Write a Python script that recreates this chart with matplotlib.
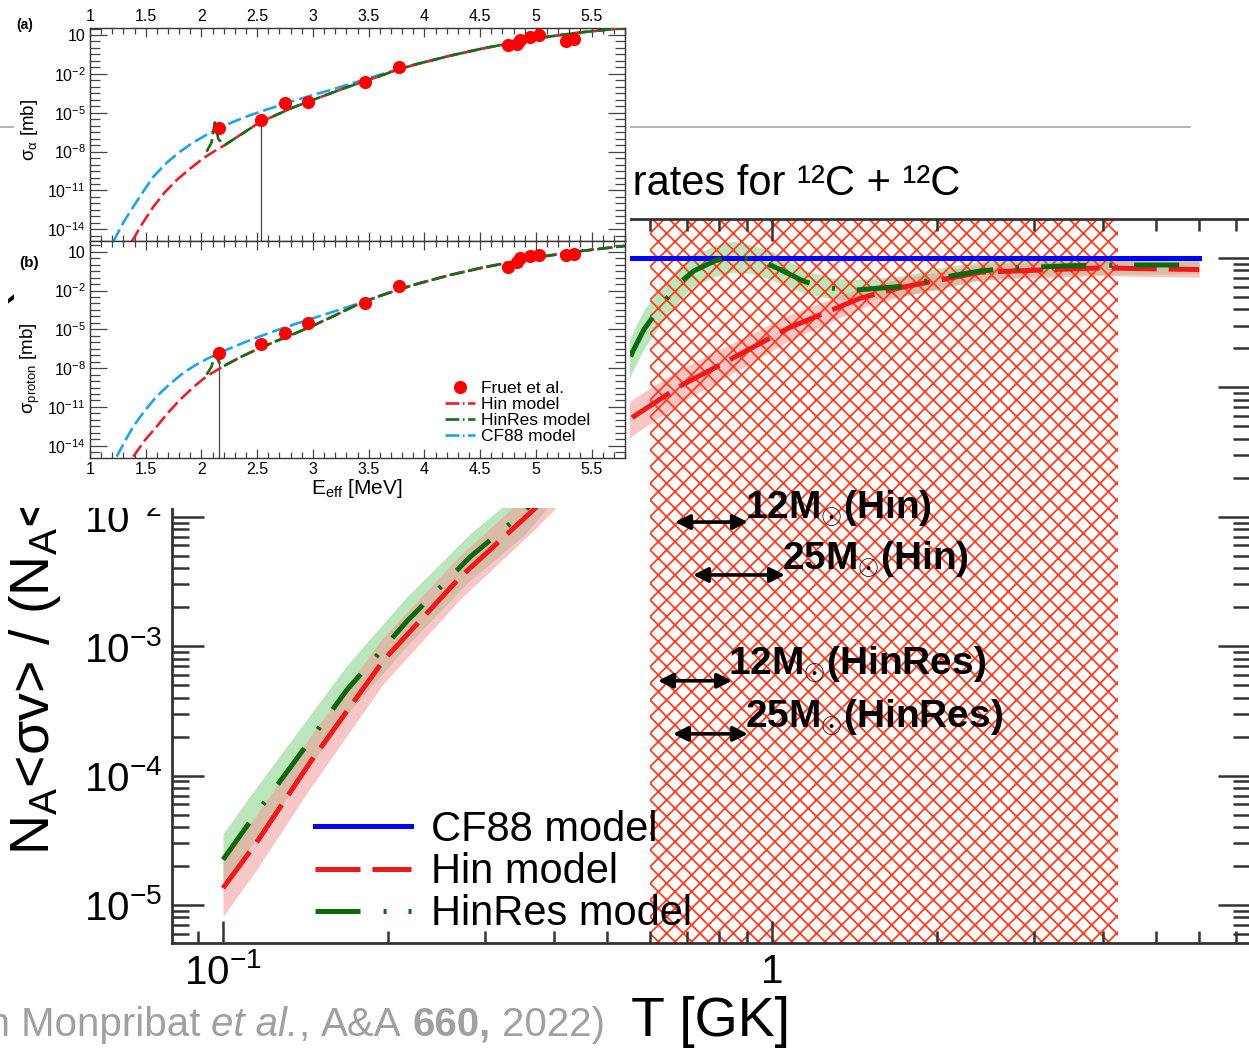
import numpy as np
import matplotlib
matplotlib.use("Agg")
import matplotlib.pyplot as plt
from matplotlib.lines import Line2D
from matplotlib.text import Annotation
from matplotlib.ticker import (FixedLocator, NullFormatter, FuncFormatter,
                               MultipleLocator, LogLocator)

W, H, DPI = 1249, 1053, 100

plt.rcParams.update({
    "font.family": ["Liberation Sans", "DejaVu Sans"],
    "mathtext.fontset": "custom",
    "mathtext.rm": "Liberation Sans",
    "mathtext.it": "Liberation Sans:italic",
    "mathtext.bf": "Liberation Sans:bold",
    "mathtext.sf": "Liberation Sans",
    "lines.scale_dashes": False,
    "hatch.linewidth": 1.3,
    "hatch.color": "#ff3d1f",
})

# ---------------- main panel: rate ratio relative to CF88 ----------------
T_cf88 = [0.1, 6.0]
ratio_cf88 = [1.0, 1.0]

T_hin = [0.100, 0.115, 0.144, 0.196, 0.270, 0.367, 0.450, 0.558, 0.680,
         0.818, 1.074, 1.450, 1.710, 2.400, 3.960, 6.000]
logratio_hin = [-4.87, -4.52, -3.90, -3.11, -2.47, -1.95, -1.58, -1.23, -0.99,
                -0.81, -0.54, -0.31, -0.23, -0.11, -0.077, -0.09]
band_hin = [0.22, 0.21, 0.20, 0.18, 0.17, 0.16, 0.15, 0.14, 0.13,
            0.12, 0.10, 0.08, 0.07, 0.06, 0.06, 0.06]

T_hinres = [0.100, 0.111, 0.133, 0.168, 0.216, 0.282, 0.352, 0.450, 0.520, 0.558,
            0.585, 0.630, 0.680, 0.720, 0.790, 0.850, 0.920, 1.000, 1.150, 1.270,
            1.400, 1.720, 2.050, 2.400, 2.850, 3.500, 4.300, 6.000]
logratio_hinres = [-4.65, -4.38, -3.93, -3.34, -2.81, -2.31, -1.97, -1.45, -1.02, -0.72,
                   -0.55, -0.36, -0.19, -0.10, -0.02, 0.01, -0.01, -0.06, -0.185, -0.23,
                   -0.25, -0.22, -0.15, -0.10, -0.075, -0.06, -0.055, -0.054]
band_hinres = [0.20, 0.20, 0.20, 0.19, 0.19, 0.18, 0.18, 0.17, 0.16, 0.15,
               0.15, 0.14, 0.13, 0.12, 0.12, 0.12, 0.11, 0.11, 0.09, 0.08,
               0.08, 0.08, 0.08, 0.07, 0.07, 0.07, 0.07, 0.07]

hatch_T = [0.6, 4.27]

star_labels = [r"12M$_{\odot}$(Hin)", r"25M$_{\odot}$(Hin)",
               r"12M$_{\odot}$(HinRes)", r"25M$_{\odot}$(HinRes)"]
star_T_lo = [0.666, 0.718, 0.620, 0.660]
star_T_hi = [0.904, 1.056, 0.846, 0.904]
star_arrow_y = [9.1e-3, 3.55e-3, 5.4e-4, 2.1e-4]
star_text_T = [0.893, 1.043, 0.832, 0.893]
star_text_y = [1.17e-2, 4.65e-3, 7.2e-4, 2.8e-4]

main_legend = ["CF88 model", "Hin model", "HinRes model"]

# ---------------- inset: cross sections vs E_eff (log10 sigma [mb]) ----------------
E_cf88_a = [1.209, 1.30, 1.388, 1.48, 1.568, 1.69, 1.807, 1.92, 2.046, 2.16, 2.285, 2.43,
            2.585, 2.76, 2.943, 3.18, 3.42, 3.67, 3.93, 4.23, 4.53, 5.0, 5.4, 5.8]
logsig_cf88_a = [-14.96, -13.46, -12.26, -11.05, -9.94, -8.84, -8.01, -7.33, -6.70, -6.20, -5.70, -5.21,
                 -4.76, -4.26, -3.78, -3.19, -2.55, -1.88, -1.25, -0.60, -0.03, 0.74, 1.20, 1.55]
E_hin_a = [1.374, 1.47, 1.568, 1.67, 1.777, 1.90, 2.016, 2.11, 2.21, 2.52, 2.82, 3.05, 3.30,
           3.55, 3.77, 3.93, 4.23, 4.53, 5.0, 5.4, 5.8]
logsig_hin_a = [-14.96, -13.55, -12.26, -11.15, -10.2, -9.3, -8.52, -8.0, -7.49, -5.75, -4.6, -3.85, -3.05,
                -2.32, -1.65, -1.25, -0.60, -0.03, 0.74, 1.20, 1.55]
E_hinres_a = [2.046, 2.09, 2.12, 2.135, 2.15, 2.18, 2.21, 2.52, 2.82, 3.05, 3.30,
              3.55, 3.77, 3.93, 4.23, 4.53, 5.0, 5.4, 5.8]
logsig_hinres_a = [-8.01, -7.3, -5.75, -6.3, -7.0, -7.3, -7.49, -5.75, -4.6, -3.85, -3.05,
                   -2.32, -1.65, -1.25, -0.60, -0.03, 0.74, 1.20, 1.55]

E_cf88_b = [1.239, 1.31, 1.388, 1.49, 1.598, 1.72, 1.837, 1.94, 2.046, 2.18, 2.316, 2.50,
            2.70, 2.88, 3.06, 3.25, 3.42, 3.60, 3.77, 3.93, 4.23, 4.53, 5.0, 5.4, 5.8]
logsig_cf88_b = [-14.85, -13.7, -12.52, -11.3, -10.19, -9.2, -8.37, -7.8, -7.3, -6.75, -6.25, -5.62,
                 -5.0, -4.48, -3.98, -3.45, -2.97, -2.42, -1.92, -1.50, -0.80, -0.21, 0.56, 1.05, 1.45]
E_hin_b = [1.388, 1.49, 1.598, 1.70, 1.807, 1.93, 2.046, 2.196, 2.35, 2.495, 2.66, 2.82, 3.0,
           3.18, 3.30, 3.42, 3.60, 3.77, 3.93, 4.23, 4.53, 5.0, 5.4, 5.8]
logsig_hin_b = [-14.85, -13.6, -12.52, -11.45, -10.45, -9.45, -8.63, -7.86, -7.15, -6.56, -5.95, -5.39, -4.72,
                -4.0, -3.5, -3.0, -2.42, -1.92, -1.50, -0.80, -0.21, 0.56, 1.05, 1.45]
E_hinres_b = [2.046, 2.09, 2.12, 2.14, 2.16, 2.196, 2.35, 2.495, 2.66, 2.82, 3.0,
              3.18, 3.30, 3.42, 3.60, 3.77, 3.93, 4.23, 4.53, 5.0, 5.4, 5.8]
logsig_hinres_b = [-8.5, -7.9, -6.95, -7.2, -7.6, -7.86, -7.15, -6.56, -5.95, -5.39, -4.72,
                   -4.0, -3.5, -3.0, -2.42, -1.92, -1.50, -0.80, -0.21, 0.56, 1.05, 1.45]

E_fruet = [2.16, 2.53, 2.75, 2.96, 3.47, 3.77, 4.75, 4.83, 4.86, 4.95, 5.03, 5.27, 5.34]
logsig_fruet_alpha = [-6.21, -5.56, -4.28, -4.15, -2.61, -1.49, 0.23, 0.30, 0.61, 0.82, 1.0, 0.56, 0.69]
logsig_fruet_proton = [-6.82, -6.17, -5.26, -4.49, -2.93, -1.64, -0.21, 0.18, 0.49, 0.64, 0.77, 0.74, 0.82]
drop_line_index_a = 1
drop_line_index_b = 0

inset_ylim_a = [-14.9, 1.54]
inset_ylim_b = [-14.95, 1.83]
inset_ytick_exp = [1, -2, -5, -8, -11, -14]
inset_legend = ["Fruet et al.", "Hin model", "HinRes model", "CF88 model"]

# ---------------- helpers ----------------
def fx(x):
    return x / W

def fy(y):
    return 1 - y / H

def pow10(v):
    return 10.0 ** np.asarray(v, dtype=float)

fig = plt.figure(figsize=(W / DPI, H / DPI), dpi=DPI)
fig.patch.set_facecolor("white")

# ---------------- slide decorations ----------------
fig.add_artist(Line2D([fx(0), fx(1190)], [fy(127), fy(127)], color="#a6a6a6", lw=1.2, zorder=1))
fig.text(fx(960), fy(195), "Ratio of reaction rates for \u00b9\u00b2C + \u00b9\u00b2C",
         ha="right", va="baseline", fontsize=30,
         family=["Liberation Sans Narrow", "Liberation Sans", "DejaVu Sans"], zorder=1)

cap_fs = 29
cap_sp = 0.278 * cap_fs
cap_kw = dict(fontsize=cap_fs, color="#a0a0a0", zorder=1)
cap_pieces = [("(from Monpribat", {}, cap_sp), ("et al.", {"style": "italic"}, 0.0),
              (",", {}, cap_sp), ("A&A", {}, cap_sp), ("660,", {"weight": "bold"}, cap_sp)]
prev = fig.text(fx(605), fy(1036), "2022)", ha="right", va="baseline", **cap_kw)
for txt, extra, gap in reversed(cap_pieces):
    ann = Annotation(txt, xy=(0, 0), xycoords=prev, xytext=(-gap, 0), textcoords="offset points",
                     ha="right", va="bottom", **cap_kw, **extra)
    fig.add_artist(ann)
    prev = ann

# ---------------- main axes ----------------
ax = fig.add_axes([fx(172), fy(943), (1250 - 172) / W, (943 - 219) / H], zorder=2)
ax.set_facecolor("none")
ax.set_xscale("log")
ax.set_yscale("log")
ax.set_xlim(10 ** (-1.0929), 10 ** 0.8707)
ax.set_ylim(10 ** (-5.294), 10 ** 0.301)

lh = np.asarray(logratio_hin); bh = np.asarray(band_hin)
lr = np.asarray(logratio_hinres); br = np.asarray(band_hinres)
ax.fill_between(T_hinres, pow10(lr - br), pow10(lr + br), color="#8fd68f", alpha=0.6, lw=0, zorder=1)
ax.fill_between(T_hin, pow10(lh - bh), pow10(lh + bh), color="#f29a9a", alpha=0.55, lw=0, zorder=1.1)
ax.axvspan(hatch_T[0], hatch_T[1], facecolor="none", edgecolor="#ff3d1f", hatch="xx", lw=0, zorder=1.5)

ax.plot(T_cf88, ratio_cf88, color="#0000ff", lw=3.6, zorder=3)
ax.plot(T_hin, pow10(lh), color="#f01818", lw=3.6, dashes=(32.4, 8.6), zorder=3)
ax.plot(T_hinres, pow10(lr), color="#0b6b0b", lw=3.6, dashes=(32.4, 16.6, 2.2, 15.8), zorder=3.1)

for lab, lo, hi, ya, tt, ty in zip(star_labels, star_T_lo, star_T_hi, star_arrow_y, star_text_T, star_text_y):
    ax.annotate("", xy=(hi, ya), xytext=(lo, ya),
                arrowprops=dict(arrowstyle="<|-|>", color="black", lw=2.6,
                                mutation_scale=22, shrinkA=0, shrinkB=0), zorder=4)
    ax.text(tt, ty, lab, fontsize=28, fontweight="bold", ha="left", va="center", zorder=4)

def main_fmt(v, pos):
    e = int(round(np.log10(v)))
    return "1" if e == 0 else r"$10^{%d}$" % e

ax.xaxis.set_major_locator(LogLocator(base=10, numticks=10))
ax.xaxis.set_minor_locator(LogLocator(base=10, subs=np.arange(2, 10), numticks=20))
ax.yaxis.set_major_locator(LogLocator(base=10, numticks=10))
ax.yaxis.set_minor_locator(LogLocator(base=10, subs=np.arange(2, 10), numticks=20))
ax.xaxis.set_major_formatter(FuncFormatter(main_fmt))
ax.yaxis.set_major_formatter(FuncFormatter(main_fmt))
ax.xaxis.set_minor_formatter(NullFormatter())
ax.yaxis.set_minor_formatter(NullFormatter())
ax.tick_params(which="both", direction="in", top=True, right=True, color="#333333",
               width=1.8, labelsize=29, pad=7)
ax.tick_params(axis="y", which="major", length=23)
ax.tick_params(axis="y", which="minor", length=12)
ax.tick_params(axis="x", which="major", length=16)
ax.tick_params(axis="x", which="minor", length=8.5)
for s in ax.spines.values():
    s.set_color("#333333")
    s.set_linewidth(2.0)

handles = [Line2D([], [], color="#0000ff", lw=3.6),
           Line2D([], [], color="#f01818", lw=3.6, dashes=(32.4, 8.6)),
           Line2D([], [], color="#0b6b0b", lw=3.6, dashes=(32.4, 16.6, 2.2, 15.8))]
ax.legend(handles, main_legend, loc="upper left", bbox_to_anchor=(fx(315), fy(810)),
          bbox_transform=fig.transFigure, frameon=False, fontsize=30, handlelength=2.3,
          handletextpad=0.48, borderpad=0, borderaxespad=0, labelspacing=0.05)

fig.text(fx(711), fy(1022), "T [GK]", ha="center", va="center", fontsize=40, zorder=1)
fig.text(fx(35), fy(855), r"N$_{\mathrm{A}}$<σv> / (N$_{\mathrm{A}}$<σv>$_{\mathrm{CF88}}$)",
         rotation=90, ha="center", va="bottom", fontsize=40, zorder=1)

# ---------------- inset ----------------
bg = fig.add_axes([fx(14), fy(508), (630 - 14) / W, 508 / H], zorder=5)
bg.set_facecolor("white")
bg.set_xticks([]); bg.set_yticks([])
for s in bg.spines.values():
    s.set_visible(False)

axa = fig.add_axes([fx(90), fy(241), 535 / W, (241 - 28) / H], zorder=6)
axb = fig.add_axes([fx(90), fy(458), 535 / W, (458 - 241) / H], zorder=6)

def inset_yfmt(v, pos):
    e = int(round(np.log10(v)))
    return "10" if e == 1 else r"$10^{%d}$" % e

def style_inset(a, ylim):
    a.set_yscale("log")
    a.set_xlim(1, 5.8)
    a.set_ylim(10 ** ylim[0], 10 ** ylim[1])
    a.xaxis.set_major_locator(MultipleLocator(0.5))
    a.xaxis.set_minor_locator(MultipleLocator(0.1))
    a.xaxis.set_major_formatter(FuncFormatter(lambda v, p: "%g" % v))
    a.yaxis.set_major_locator(FixedLocator([10.0 ** e for e in inset_ytick_exp]))
    a.yaxis.set_minor_locator(FixedLocator([10.0 ** (k / 2) for k in range(-32, 5)]))
    a.yaxis.set_major_formatter(FuncFormatter(inset_yfmt))
    a.yaxis.set_minor_formatter(NullFormatter())
    a.tick_params(which="both", direction="in", top=True, right=True, color="#444444",
                  width=0.9, labelsize=11.5, pad=3)
    a.tick_params(axis="x", which="major", length=6.5)
    a.tick_params(axis="x", which="minor", length=4)
    a.tick_params(axis="y", which="major", length=12)
    a.tick_params(axis="y", which="minor", length=7)
    for s in a.spines.values():
        s.set_color("#333333")
        s.set_linewidth(1.0)

style_inset(axa, inset_ylim_a)
style_inset(axb, inset_ylim_b)
axa.tick_params(axis="x", labeltop=True, labelbottom=False)
axb.tick_params(axis="x", labeltop=False, labelbottom=True)

c_blue, c_red, c_green = "#1fa3ea", "#e8202a", "#1a6b1a"
dash_in = (10, 3.5)
for a, Ec, lc, Eh, lhh, Er, lrr, lf, ylim, di in [
        (axa, E_cf88_a, logsig_cf88_a, E_hin_a, logsig_hin_a, E_hinres_a, logsig_hinres_a,
         logsig_fruet_alpha, inset_ylim_a, drop_line_index_a),
        (axb, E_cf88_b, logsig_cf88_b, E_hin_b, logsig_hin_b, E_hinres_b, logsig_hinres_b,
         logsig_fruet_proton, inset_ylim_b, drop_line_index_b)]:
    a.vlines(E_fruet[di], 10 ** ylim[0], 10 ** lf[di], color="#444444", lw=0.9, zorder=2)
    a.plot(Ec, pow10(lc), color=c_blue, lw=1.9, dashes=dash_in, zorder=3)
    a.plot(Eh, pow10(lhh), color=c_red, lw=1.9, dashes=dash_in, zorder=3.1)
    a.plot(Er, pow10(lrr), color=c_green, lw=1.9, dashes=dash_in, zorder=3.2)
    a.plot(E_fruet, pow10(lf), "o", color="#ff0000", ms=9.5, mec="none", zorder=4)

ih = [Line2D([], [], ls="none", marker="o", color="#ff0000", ms=9.5, mec="none"),
      Line2D([], [], color=c_red, lw=1.9, dashes=(10, 2.5, 1.2, 2.5)),
      Line2D([], [], color=c_green, lw=1.9, dashes=(10, 2.5, 1.2, 2.5)),
      Line2D([], [], color=c_blue, lw=1.9, dashes=(10, 2.5, 1.2, 2.5))]
axb.legend(ih, inset_legend, loc="upper left", bbox_to_anchor=(fx(445), fy(381)),
           bbox_transform=fig.transFigure, frameon=False, fontsize=12.5, handlelength=1.72,
           handletextpad=0.35, borderpad=0, borderaxespad=0, labelspacing=0.05)

fig.text(fx(25), fy(25), "(a)", fontsize=10, fontweight="bold", ha="center", va="center", zorder=7)
fig.text(fx(29), fy(263), "(b)", fontsize=11, fontweight="bold", ha="center", va="center", zorder=7)
fig.text(fx(30), fy(130), r"σ$_{\mathrm{α}}$ [mb]", rotation=90, fontsize=13.5,
         ha="center", va="center", zorder=7)
fig.text(fx(30), fy(368), r"σ$_{\mathrm{proton}}$ [mb]", rotation=90, fontsize=13.5,
         ha="center", va="center", zorder=7)
fig.text(fx(357), fy(488), r"E$_{\mathrm{eff}}$ [MeV]", fontsize=15,
         ha="center", va="center", zorder=7)

fig.savefig("out.png", dpi=DPI)
